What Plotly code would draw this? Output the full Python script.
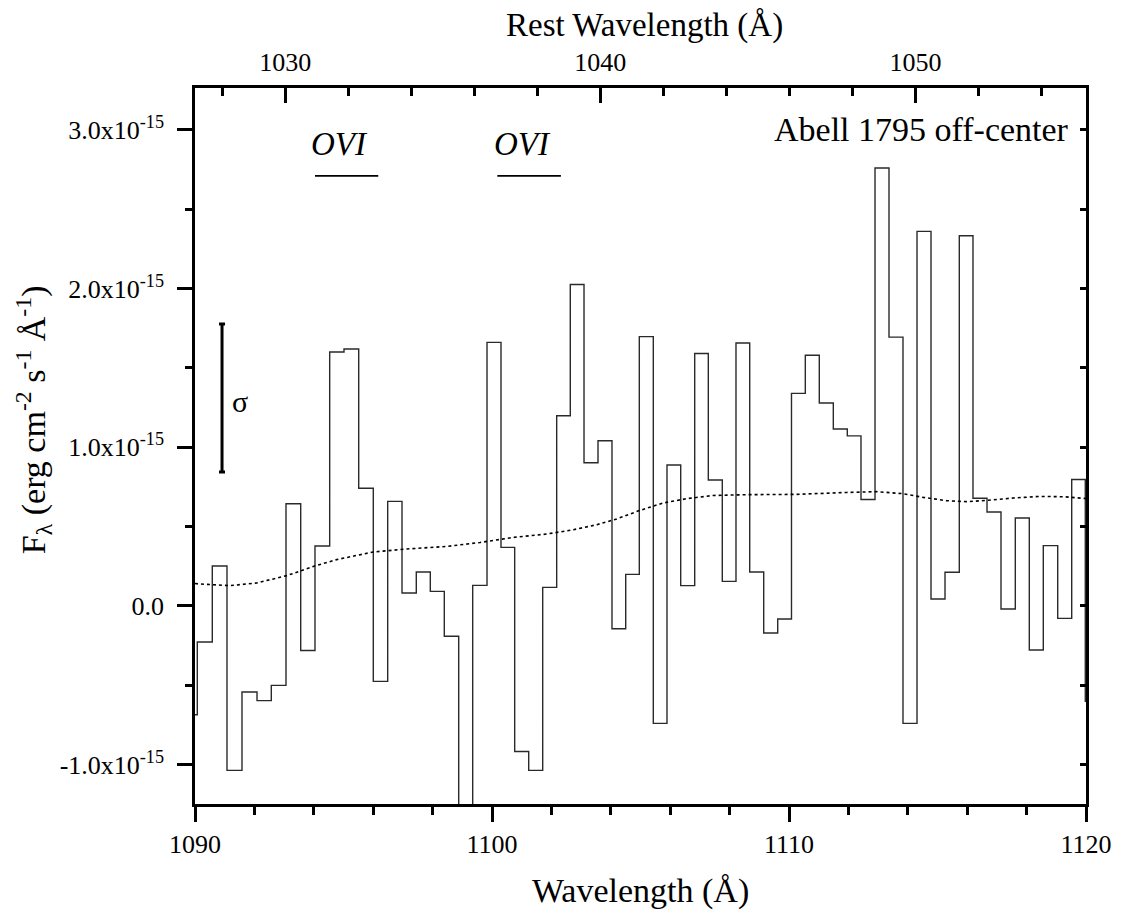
import plotly.graph_objects as go

# ---------------- data ----------------
# observed wavelength (Angstrom): left edges of each spectral bin, plus final right edge
bin_edges = [1089.90, 1090.077, 1090.582, 1091.077, 1091.582, 1092.088, 1092.569, 1093.064,
             1093.559, 1094.040, 1094.535, 1095.017, 1095.512, 1096.003, 1096.488, 1096.970,
             1097.451, 1097.923, 1098.394, 1098.879, 1099.350, 1099.832, 1100.303, 1100.764,
             1101.236, 1101.707, 1102.178, 1102.636, 1103.098, 1103.569, 1104.040, 1104.502,
             1104.960, 1105.431, 1105.892, 1106.354, 1106.825, 1107.283, 1107.754, 1108.215,
             1108.677, 1109.148, 1109.620, 1110.084, 1110.549, 1111.020, 1111.492, 1111.963,
             1112.424, 1112.896, 1113.367, 1113.838, 1114.310, 1114.781, 1115.253, 1115.734,
             1116.195, 1116.667, 1117.138, 1117.620, 1118.091, 1118.562, 1119.047, 1119.519,
             1119.976, 1120.45]
# flux in units of 1e-15 erg cm^-2 s^-1 A^-1
flux = [-0.685, -0.227, 0.252, -1.035, -0.542, -0.596, -0.500, 0.644,
        -0.280, 0.378, 1.599, 1.618, 0.741, -0.475, 0.659, 0.082,
        0.214, 0.092, -0.191, -1.600, 0.130, 1.660, 0.369, -0.916,
        -1.035, 0.117, 1.198, 2.025, 0.902, 1.041, -0.143, 0.199,
        1.696, -0.739, 0.888, 0.128, 1.590, 0.793, 0.155, 1.656,
        0.214, -0.170, -0.082, 1.339, 1.579, 1.278, 1.115, 1.071,
        0.671, 2.758, 1.693, -0.739, 2.359, 0.044, 0.212, 2.332,
        0.678, 0.592, -0.019, 0.554, -0.277, 0.380, -0.078, 0.797,
        -0.600]

# dotted curve
dot_wave = [1090.0, 1090.11, 1091.18, 1092.08, 1093.09, 1093.98, 1094.77, 1096.00, 1097.13,
            1098.47, 1099.60, 1100.72, 1101.84, 1102.74, 1103.53, 1104.20, 1104.98,
            1105.77, 1106.56, 1107.45, 1108.58, 1110.26, 1111.94, 1112.95, 1113.85,
            1114.52, 1115.31, 1115.98, 1116.66, 1117.55, 1118.45, 1119.24, 1119.91, 1120.0]
dot_flux = [0.142, 0.139, 0.128, 0.145, 0.191, 0.249, 0.292, 0.340, 0.359,
            0.375, 0.400, 0.432, 0.453, 0.480, 0.512, 0.548, 0.602,
            0.649, 0.676, 0.696, 0.701, 0.703, 0.715, 0.720, 0.707,
            0.684, 0.663, 0.657, 0.665, 0.680, 0.690, 0.688, 0.678, 0.677]

redshift = 0.0612
obs_range = [1090, 1120]
flux_range = [-1.247, 3.262]

y_tickvals = [-1, 0, 1, 2, 3]
y_ticktext = ["-1.0x10<sup>-15</sup>", "0.0", "1.0x10<sup>-15</sup>",
              "2.0x10<sup>-15</sup>", "3.0x10<sup>-15</sup>"]
x_tickvals = [1090, 1100, 1110, 1120]
rest_tickvals = [1030, 1040, 1050]

# sigma error bar
sigma_x = 1090.91
sigma_center = 1.31
sigma_half = 0.466

# O VI line markers
ovi_labels = ["OVI", "OVI"]
ovi_text_x = [1094.88, 1101.04]
ovi_line_start = [1094.04, 1100.18]
ovi_line_end = [1096.17, 1102.32]
ovi_text_y = 2.911
ovi_line_y = 2.708

# ---------------- figure ----------------
FONT = "Liberation Serif, Times New Roman, serif"
step_x = bin_edges
step_y = flux + [flux[-1]]

fig = go.Figure()
fig.add_trace(go.Scatter(x=step_x, y=step_y, mode="lines", line_shape="hv",
                         line=dict(color="#2a2a2a", width=1.4), showlegend=False,
                         hoverinfo="skip"))
fig.add_trace(go.Scatter(x=dot_wave, y=dot_flux, mode="lines",
                         line=dict(color="black", width=1.6, dash="dot"),
                         showlegend=False, hoverinfo="skip"))
fig.add_trace(go.Scatter(x=[sigma_x], y=[sigma_center], mode="markers",
                         marker=dict(size=1, color="black", opacity=0),
                         error_y=dict(type="data", array=[sigma_half], color="black",
                                      thickness=3, width=3),
                         showlegend=False, hoverinfo="skip"))
for i in range(len(ovi_labels)):
    fig.add_trace(go.Scatter(x=[ovi_line_start[i], ovi_line_end[i]],
                             y=[ovi_line_y, ovi_line_y], mode="lines",
                             line=dict(color="black", width=1.8),
                             showlegend=False, hoverinfo="skip"))
    fig.add_annotation(x=ovi_text_x[i], y=ovi_text_y, text="<i>%s</i>" % ovi_labels[i],
                       showarrow=False, font=dict(family=FONT, size=33, color="black"),
                       xanchor="center", yanchor="middle")

rest_range = [obs_range[0] / (1 + redshift), obs_range[1] / (1 + redshift)]
fig.add_trace(go.Scatter(x=rest_range, y=[None, None], xaxis="x2", yaxis="y2",
                         mode="lines", showlegend=False, hoverinfo="skip"))

fig.add_annotation(x=1091.52, y=1.287, text="σ", showarrow=False,
                   font=dict(family=FONT, size=30, color="black"),
                   xanchor="center", yanchor="middle")
fig.add_annotation(x=1119.49, y=3.0, text="Abell 1795 off-center", showarrow=False,
                   font=dict(family=FONT, size=34, color="black"),
                   xanchor="right", yanchor="middle")

# axis titles
fig.add_annotation(xref="paper", yref="paper", x=0.5, y=0, yshift=-87,
                   text="Wavelength (Å)", showarrow=False,
                   font=dict(family=FONT, size=34, color="black"),
                   xanchor="center", yanchor="middle")
fig.add_annotation(xref="paper", yref="paper", x=0.504, y=1, yshift=63,
                   text="Rest Wavelength (Å)", showarrow=False,
                   font=dict(family=FONT, size=33, color="black"),
                   xanchor="center", yanchor="middle", borderpad=0)
fig.add_annotation(xref="paper", yref="paper", x=0, xshift=-162, y=0.536,
                   text="F<sub>λ</sub> (erg cm<sup>-2</sup> s<sup>-1</sup> Å<sup>-1</sup>)",
                   textangle=-90, showarrow=False,
                   font=dict(family=FONT, size=34, color="black"),
                   xanchor="center", yanchor="middle")

axis_common = dict(showgrid=False, zeroline=False, showline=True, linecolor="black",
                   linewidth=2.5, tickcolor="black", tickwidth=2.5,
                   tickfont=dict(family=FONT, size=26, color="black"))

# page body has an 8px margin, so the figure is offset by 8px
fig.update_layout(
    width=1115, height=907,
    margin=dict(l=187, r=37, t=80, b=111),
    paper_bgcolor="white", plot_bgcolor="white",
    xaxis=dict(range=obs_range, tickmode="array", tickvals=x_tickvals,
               ticks="outside", ticklen=15, ticklabelstandoff=0,
               minor=dict(dtick=2, tick0=1090, ticks="outside", ticklen=8,
                          tickcolor="black", tickwidth=2.5),
               **axis_common),
    xaxis2=dict(range=rest_range, overlaying="x", side="top", anchor="y",
                tickmode="array", tickvals=rest_tickvals,
                ticks="inside", ticklen=15, ticklabelstandoff=4,
                minor=dict(dtick=2, tick0=1030, ticks="inside", ticklen=8,
                           tickcolor="black", tickwidth=2.5),
                **axis_common),
    yaxis=dict(range=flux_range, tickmode="array", tickvals=y_tickvals,
               ticktext=y_ticktext, ticks="outside", ticklen=15, ticklabelstandoff=8,
               minor=dict(dtick=0.5, tick0=0, ticks="outside", ticklen=7,
                          tickcolor="black", tickwidth=2.5),
               **axis_common),
    yaxis2=dict(range=flux_range, overlaying="y", side="right", anchor="x",
                tickmode="linear", tick0=0, dtick=0.5, ticks="inside", ticklen=6,
                showticklabels=False, **axis_common),
)

fig.write_html("out.html")
